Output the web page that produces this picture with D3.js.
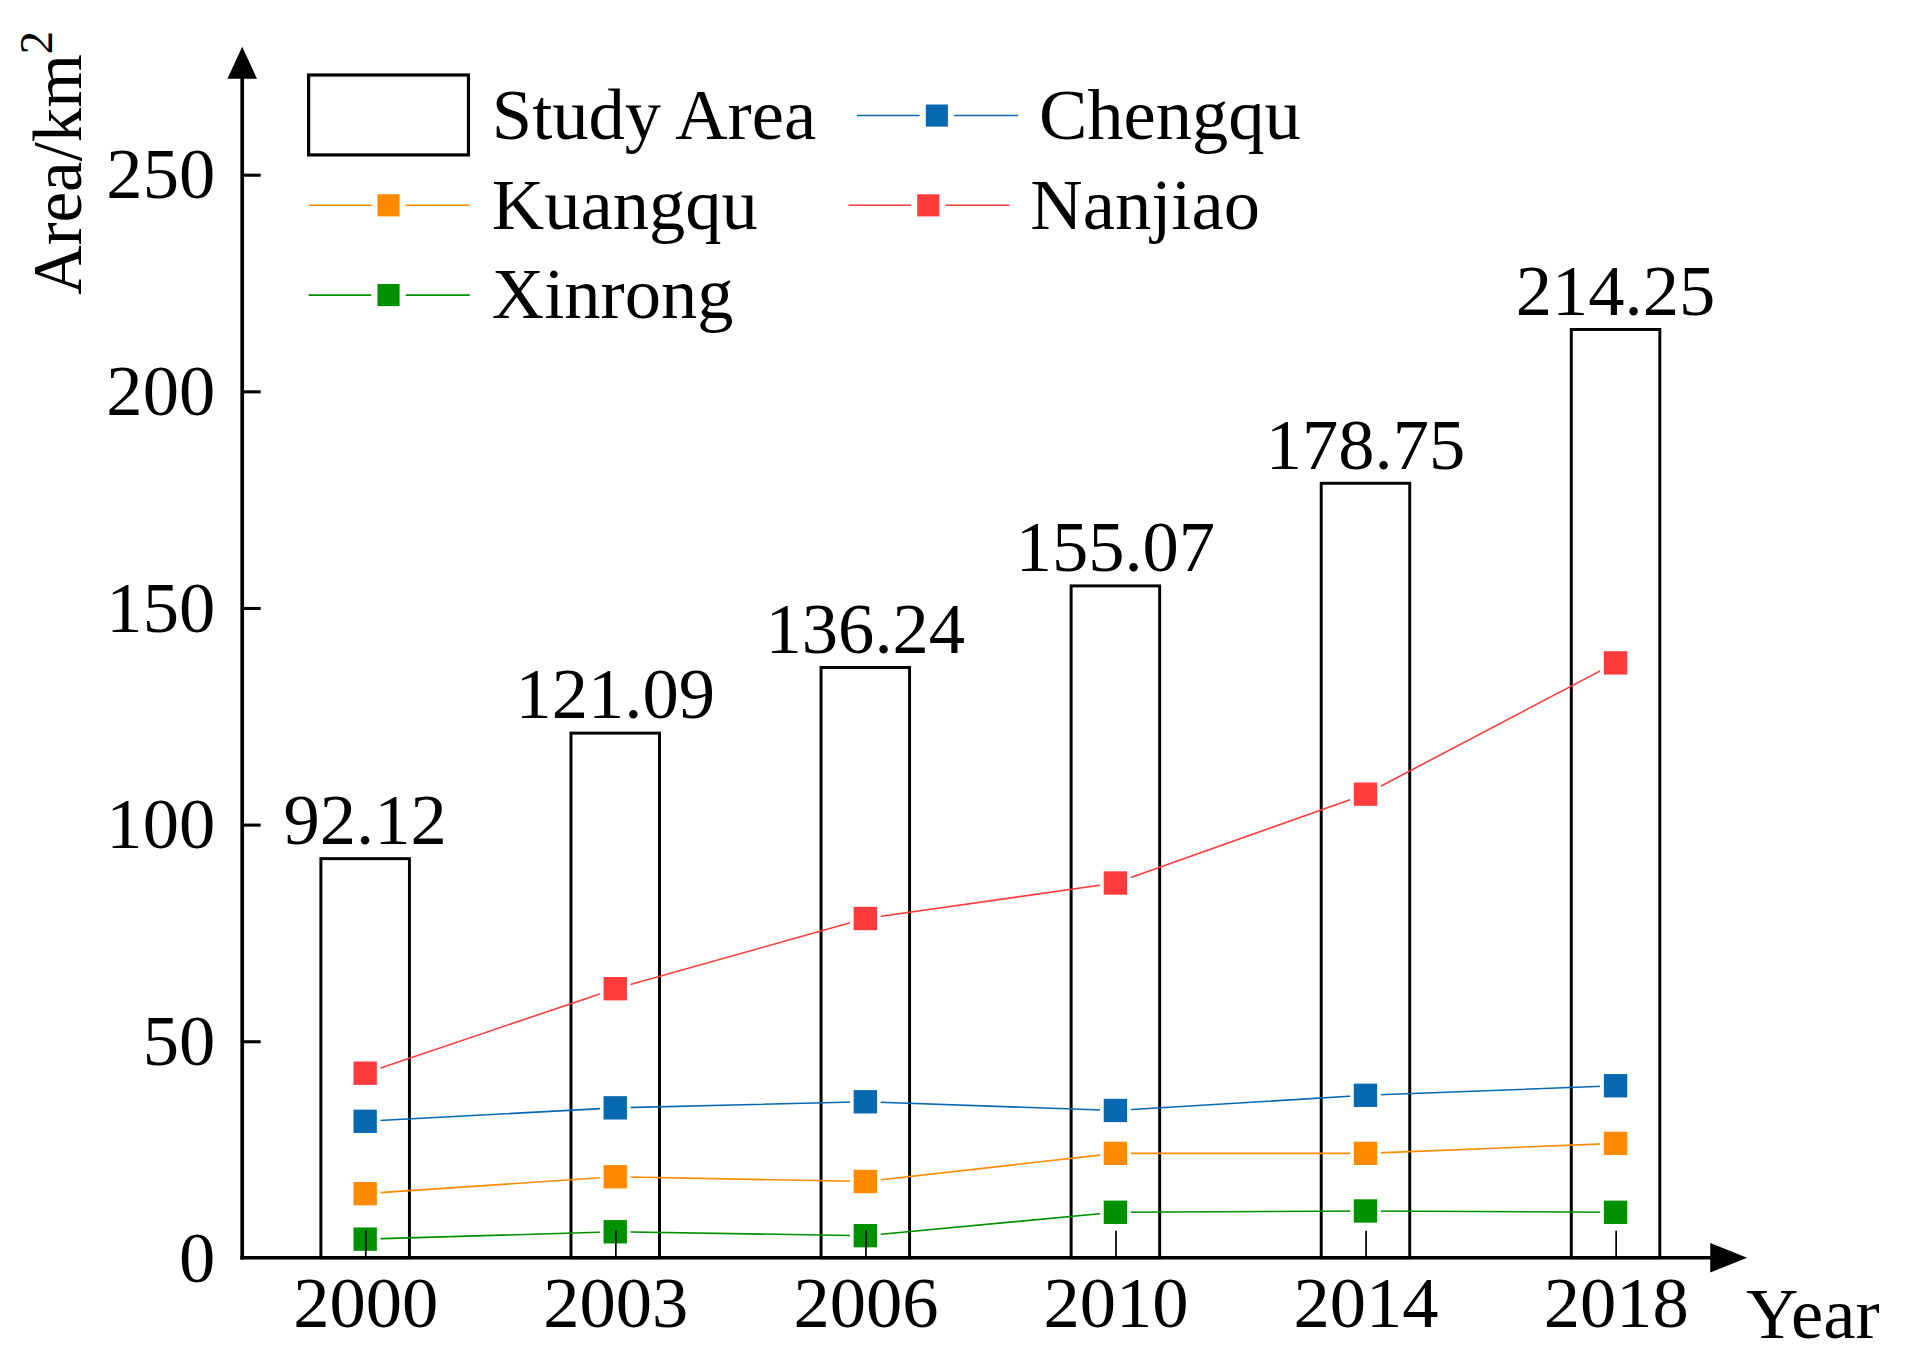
<!DOCTYPE html>
<html><head><meta charset="utf-8">
<script src="https://cdn.jsdelivr.net/npm/d3@7"></script>
<style>html,body{margin:0;padding:0;background:#fff;overflow:hidden}</style>
</head><body>
<svg id="c" width="1926" height="1364" viewBox="0 0 1566.5 1109.4"></svg>
<script>
const years = ["2000","2003","2006","2010","2014","2018"];
const studyArea = [92.12, 121.09, 136.24, 155.07, 178.75, 214.25];
const chengqu = [31.5, 34.6, 36.0, 34.0, 37.5, 39.7];
const kuangqu = [14.8, 18.7, 17.6, 24.1, 24.1, 26.4];
const nanjiao = [42.6, 62.1, 78.3, 86.5, 107.0, 137.3];
const xinrong = [4.3, 6.0, 5.1, 10.5, 10.8, 10.5];
const yTicks = [0, 50, 100, 150, 200, 250];

const series = [
  {name:"Chengqu", values:chengqu, color:"#0868b0"},
  {name:"Kuangqu", values:kuangqu, color:"#ff8a00"},
  {name:"Nanjiao", values:nanjiao, color:"#ff3b3b"},
  {name:"Xinrong", values:xinrong, color:"#009000"}
];

const svg = d3.select("#c");
const font = "'Liberation Serif','Times New Roman',serif";
const x0 = 197, y0 = 1023;
const x = d3.scalePoint().domain(years).range([297, 1314]);
const y = d3.scaleLinear().domain([0, 250]).range([y0, 142]);
const barW = 72;

// bars
svg.append("g").selectAll("rect").data(years).join("rect")
  .attr("x", d => x(d) - barW/2)
  .attr("y", (d,i) => y(studyArea[i]))
  .attr("width", barW)
  .attr("height", (d,i) => y0 - y(studyArea[i]))
  .attr("fill", "none").attr("stroke", "#000").attr("stroke-width", 2.4);

// bar labels
svg.append("g").selectAll("text").data(years).join("text")
  .attr("x", d => x(d))
  .attr("y", (d,i) => y(studyArea[i]) - 12)
  .attr("text-anchor", "middle")
  .attr("font-family", font).attr("font-size", 59)
  .text((d,i) => studyArea[i].toFixed(2));

// lines & markers
const line = d3.line().x((d,i) => x(years[i])).y(d => y(d));
series.forEach(s => {
  svg.append("path").datum(s.values).attr("d", line)
    .attr("fill","none").attr("stroke", s.color).attr("stroke-width", 1.3);
  svg.append("g").selectAll("rect").data(s.values).join("rect")
    .attr("x", (d,i) => x(years[i]) - 11)
    .attr("y", d => y(d) - 11)
    .attr("width", 22).attr("height", 22)
    .attr("fill", s.color).attr("stroke", "#fff").attr("stroke-width", 3);
});

// y axis
const yAxis = svg.append("g").attr("transform", `translate(${x0},0)`)
  .call(d3.axisLeft(y).tickValues(yTicks).tickSize(-15).tickPadding(22));
yAxis.select(".domain").remove();
yAxis.selectAll(".tick line").attr("stroke","#000").attr("stroke-width",2.5);
yAxis.selectAll(".tick text").attr("font-family", font).attr("font-size", 59).attr("fill","#000");
yAxis.selectAll(".tick").filter(d => d === 0).select("line").remove();

// x axis
const xAxis = svg.append("g").attr("transform", `translate(0,${y0})`)
  .call(d3.axisBottom(x).tickSize(-22).tickPadding(14));
xAxis.select(".domain").remove();
xAxis.selectAll(".tick line").attr("stroke","#000").attr("stroke-width",1.4);
xAxis.selectAll(".tick text").attr("font-family", font).attr("font-size", 59).attr("fill","#000").attr("dy","0.72em");

// axis lines with arrows
svg.append("line").attr("x1", x0).attr("y1", y0 + 1.5).attr("x2", x0).attr("y2", 62)
  .attr("stroke","#000").attr("stroke-width",3);
svg.append("path").attr("d", `M${x0},38 L${x0-12},64 L${x0+12},64 Z`).attr("fill","#000");
svg.append("line").attr("x1", x0 - 1.5).attr("y1", y0).attr("x2", 1395).attr("y2", y0)
  .attr("stroke","#000").attr("stroke-width",3);
svg.append("path").attr("d", `M1421,${y0} L1391,${y0-12} L1391,${y0+12} Z`).attr("fill","#000");

// axis titles
svg.append("text").attr("x", 1420).attr("y", 1088)
  .attr("font-family", font).attr("font-size", 59).text("Year");
const yl = svg.append("text").attr("transform", "translate(66,240) rotate(-90)")
  .attr("font-family", font).attr("font-size", 56);
yl.append("tspan").text("Area/km");
yl.append("tspan").attr("dy", -24).attr("font-size", 38).text("2");

// legend
const lg = svg.append("g");
lg.append("rect").attr("x",251).attr("y",61).attr("width",130).attr("height",65)
  .attr("fill","none").attr("stroke","#000").attr("stroke-width",2.6);
lg.append("text").attr("x",400).attr("y",113).attr("font-family",font).attr("font-size",59).text("Study Area");
const legItems = [
  {s:series[0], lx:697, ty:94, tx:845},
  {s:series[1], lx:251, ty:167, tx:400},
  {s:series[2], lx:690, ty:167, tx:838},
  {s:series[3], lx:251, ty:240, tx:400}
];
legItems.forEach(it => {
  const cx = it.lx + 65;
  lg.append("line").attr("x1", it.lx).attr("x2", cx - 14).attr("y1", it.ty).attr("y2", it.ty)
    .attr("stroke", it.s.color).attr("stroke-width", 1.3);
  lg.append("line").attr("x1", cx + 14).attr("x2", it.lx + 131).attr("y1", it.ty).attr("y2", it.ty)
    .attr("stroke", it.s.color).attr("stroke-width", 1.3);
  lg.append("rect").attr("x", cx - 9).attr("y", it.ty - 9).attr("width", 18).attr("height", 18)
    .attr("fill", it.s.color);
  lg.append("text").attr("x", it.tx).attr("y", it.ty + 19).attr("font-family", font)
    .attr("font-size", 59).text(it.s.name);
});
</script>
</body></html>
